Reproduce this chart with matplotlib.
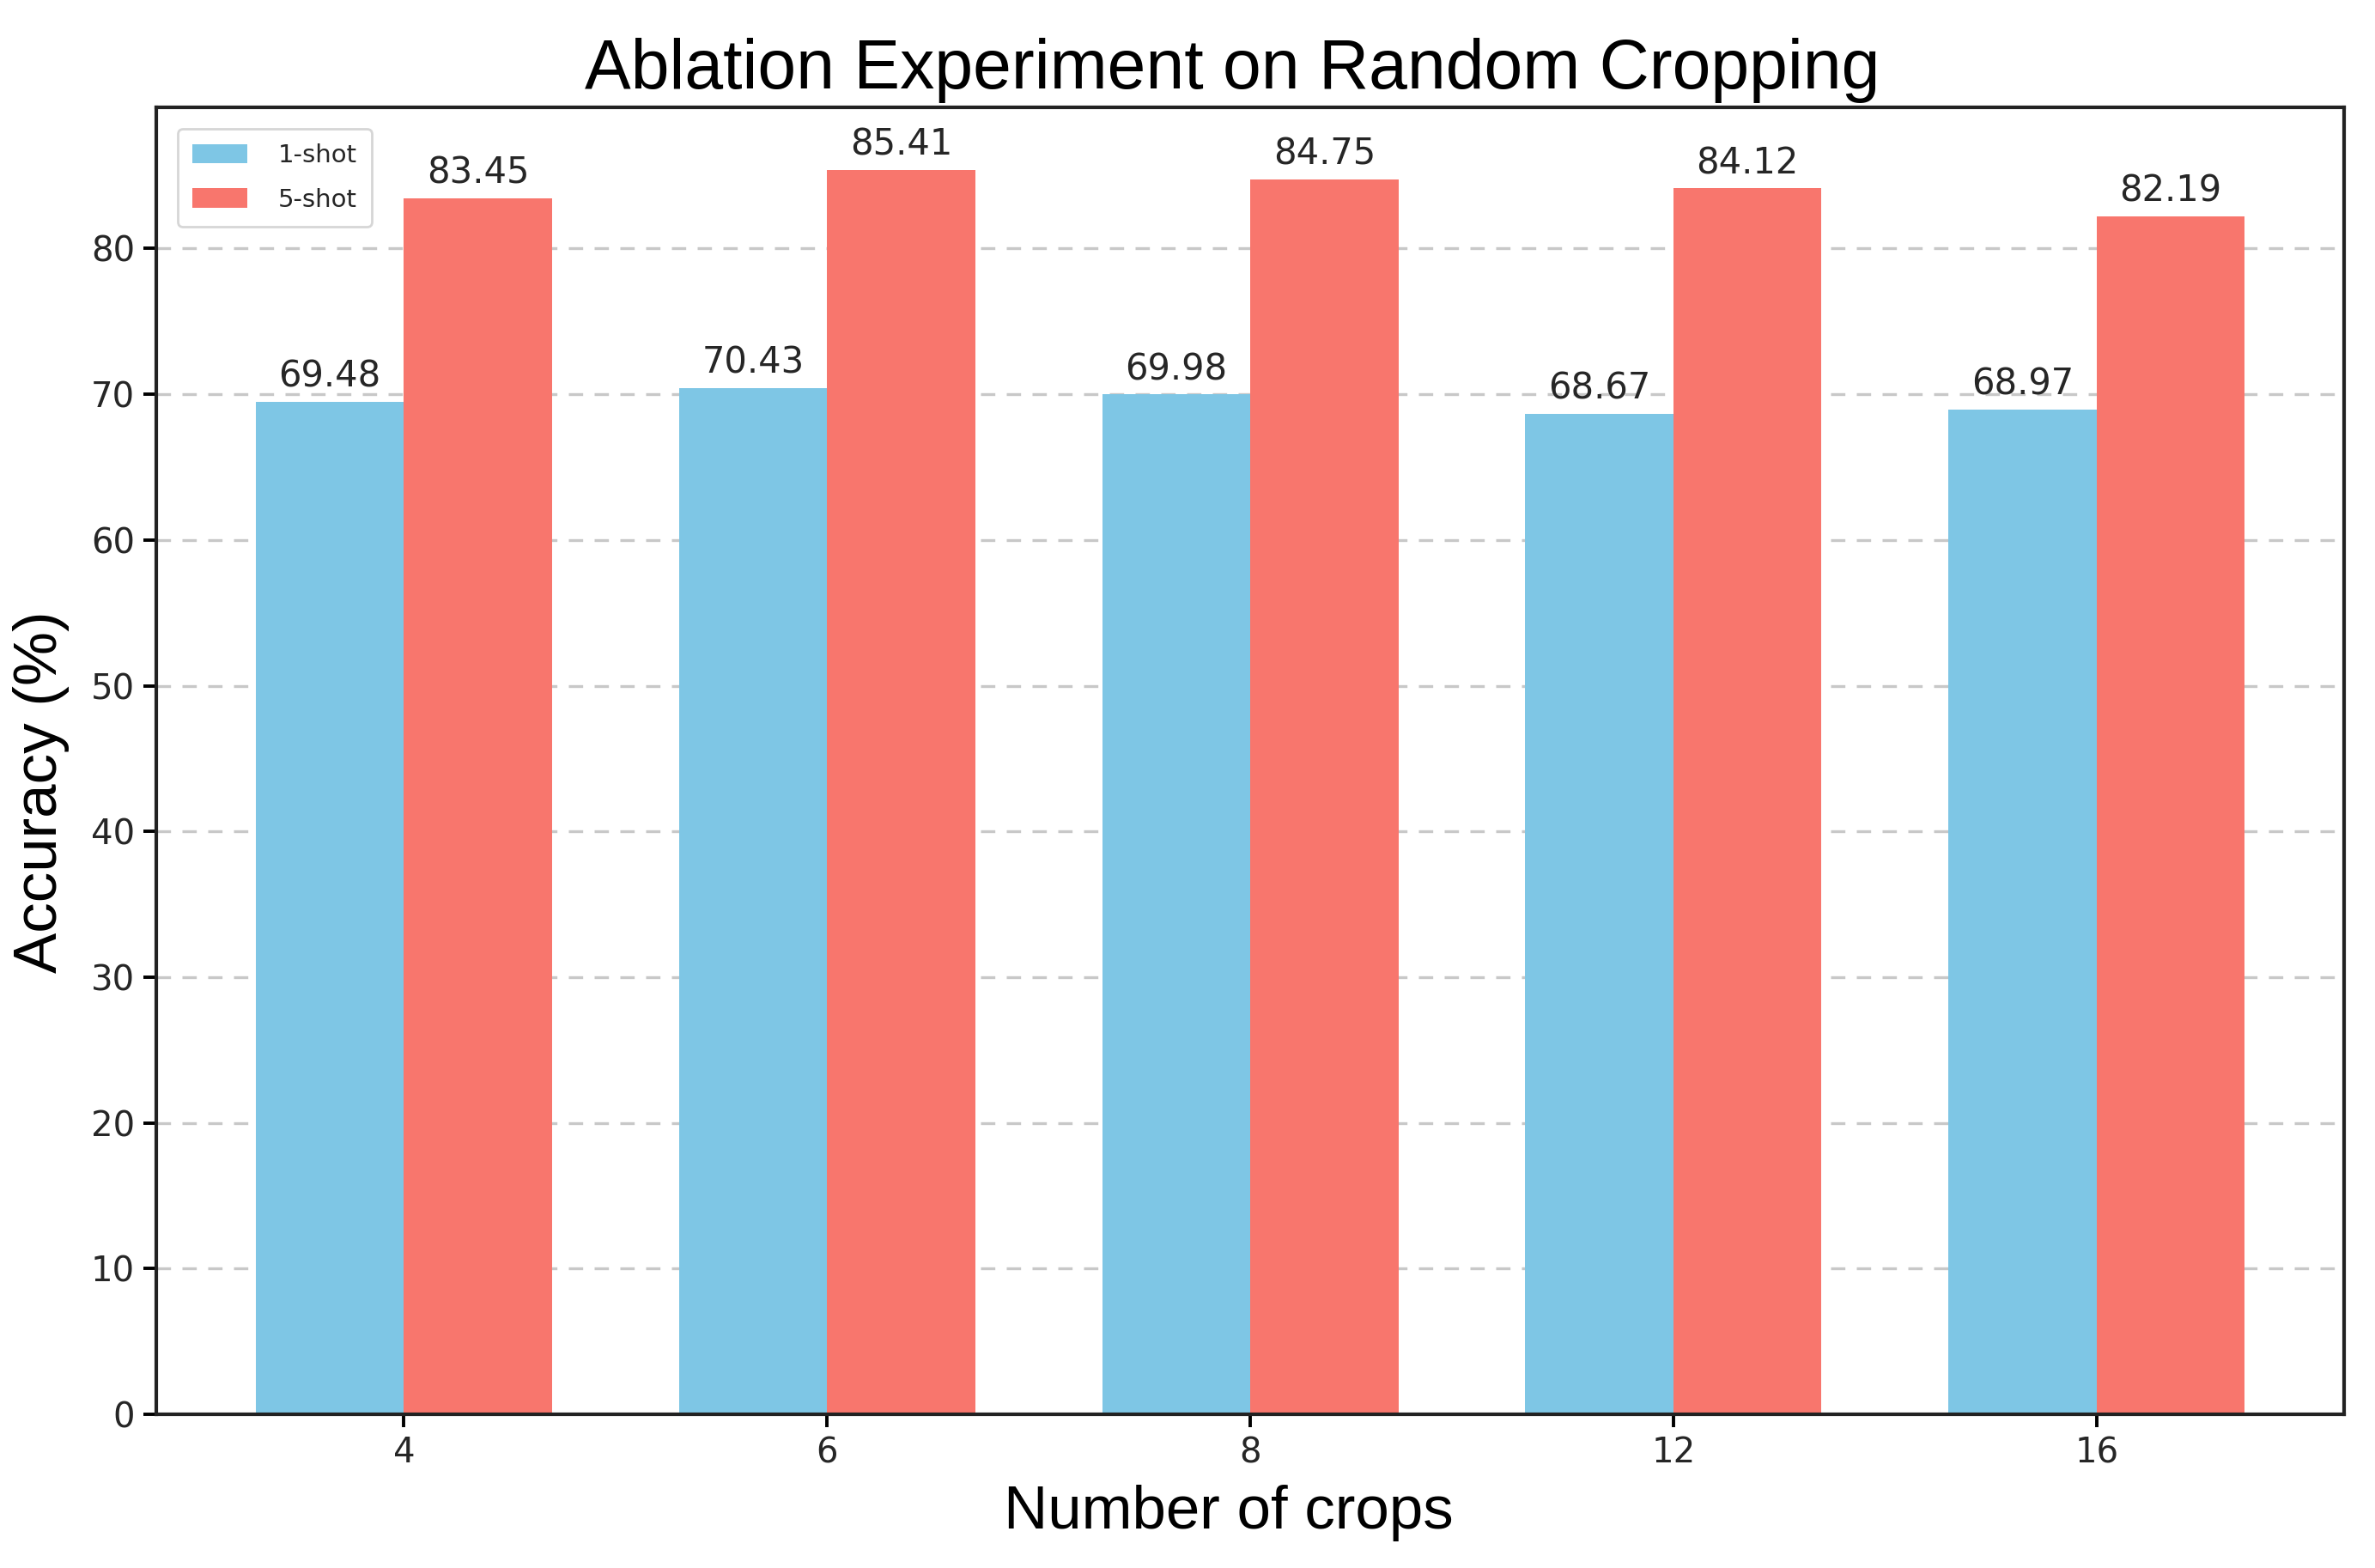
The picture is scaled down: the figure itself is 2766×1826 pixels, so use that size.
import numpy as np
import matplotlib
matplotlib.use('Agg')
from matplotlib import pyplot as plt

# values
crops = ['4', '6', '8', '12', '16']
one_shot = [69.48, 70.43, 69.98, 68.67, 68.97]
five_shot = [83.45, 85.41, 84.75, 84.12, 82.19]

BAR_W = 0.35
BLUE = '#7EC6E5'
RED = '#F8766D'
TXT = '#262626'

fig = plt.figure(figsize=(13.83, 9.13), dpi=200)
ax = fig.add_axes([0.0658, 0.098, 0.9212, 0.8335])

x = np.arange(len(crops))
b1 = ax.bar(x - BAR_W / 2, one_shot, BAR_W, color=BLUE, label='1-shot', zorder=2)
b2 = ax.bar(x + BAR_W / 2, five_shot, BAR_W, color=RED, label='5-shot', zorder=2)

for bars in (b1, b2):
    for rect in bars:
        h = rect.get_height()
        ax.annotate('%.2f' % h, xy=(rect.get_x() + rect.get_width() / 2, h),
                    xytext=(0, 3), textcoords='offset points',
                    ha='center', va='bottom', fontsize=15, color=TXT,
                    family='DejaVu Sans')

ax.set_xticks(x)
ax.set_xticklabels(crops)
ax.tick_params(axis='both', labelsize=14.5, labelcolor=TXT, length=5.5, width=1.4)
ax.yaxis.grid(True, linestyle=(0, (5, 4)), color='#c8c8c8', linewidth=1.2, zorder=0)
ax.set_axisbelow(True)
for sp in ax.spines.values():
    sp.set_linewidth(1.5)
    sp.set_color('#222222')

ax.set_title('Ablation Experiment on Random Cropping', fontsize=29,
             family='Liberation Sans', pad=8)
ax.title.set_x(0.492)
ax.set_xlabel('Number of crops', fontsize=25.5, family='Liberation Sans', labelpad=6)
ax.set_ylabel('Accuracy (%)', fontsize=25.5, family='Liberation Sans', labelpad=9)
# labels sit a bit off-centre in the original
ax.xaxis.label.set_x(0.49)
ax.yaxis.label.set_y(0.476)

leg = ax.legend(loc='upper left', fontsize=10.5, handlelength=2.2, handleheight=0.8,
                borderpad=0.6, labelspacing=0.8, handletextpad=1.2,
                borderaxespad=0.85)
for t in leg.get_texts():
    t.set_color(TXT)

fig.savefig('out.png', dpi=200)
